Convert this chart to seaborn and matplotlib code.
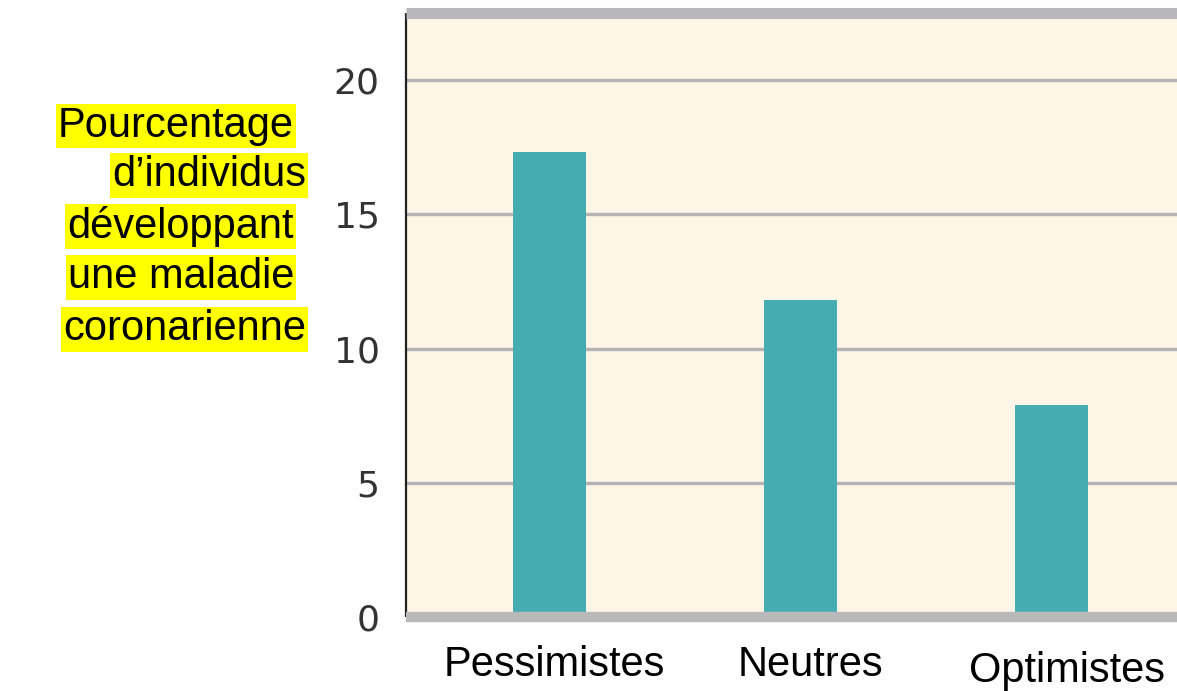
import matplotlib
matplotlib.use('Agg')
import matplotlib.pyplot as plt
import matplotlib.transforms as mtransforms
import pandas as pd
import seaborn as sns

# Data
groupes = ['Pessimistes', 'Neutres', 'Optimistes']
pourcentages = [17.3, 11.8, 7.9]
yticks = [0, 5, 10, 15, 20]
label_lines = ['Pourcentage', 'd\u2019individus', 'développant', 'une maladie', 'coronarienne']

df = pd.DataFrame({'groupe': groupes, 'pct': pourcentages})

sns.set_style('white')
plt.rcParams['font.family'] = ['DejaVu Sans']

cream = '#fdf6e6'
teal = '#45adb2'

fig = plt.figure(figsize=(11.77, 6.91), dpi=100)
ax = fig.add_axes([0.3449, 0.1064, 0.6551, 0.8755])
ax.set_facecolor(cream)

sns.barplot(data=df, x='groupe', y='pct', color=teal, saturation=1,
            width=0.29, linewidth=0, ax=ax, zorder=3)

ax.set_xlim(-0.572, 2.5)
ax.set_ylim(0, 22.5)
ax.set_yticks(yticks)
ax.set_xlabel('')
ax.set_ylabel('')

# grid lines
ax.yaxis.grid(True, color='#b4b4b4', linewidth=2.4, zorder=1)
ax.set_axisbelow(True)

# spines
ax.spines['right'].set_visible(False)
ax.spines['left'].set_color('#222222')
ax.spines['left'].set_linewidth(1.6)
ax.spines['bottom'].set_color('#b9b9b9')
ax.spines['bottom'].set_linewidth(7.5)
ax.spines['top'].set_color('#b7b7bc')
ax.spines['top'].set_linewidth(8)
for s in ax.spines.values():
    s.set_zorder(4)
    s.set_capstyle('butt')

ax.tick_params(axis='y', length=0, pad=19, labelsize=26, labelcolor='#333333')
ax.tick_params(axis='x', length=0, pad=20)
for lab in ax.get_xticklabels():
    lab.set_fontfamily('Liberation Sans')
    lab.set_fontsize(30)
    lab.set_color('black')

# small shifts seen on the category labels
shifts = [(5, 0), (10, 0), (15, -6)]
for lab, (dx, dy) in zip(ax.get_xticklabels(), shifts):
    lab.set_transform(lab.get_transform() +
                      mtransforms.ScaledTranslation(dx / 100, dy / 100, fig.dpi_scale_trans))

# highlighted y-axis title, one box per line
line_x = [58, 112, 67, 68, 63]
line_y = [126, 175.5, 226.5, 277.5, 329.5]
for txt, x, y in zip(label_lines, line_x, line_y):
    fig.text(x / 1177, 1 - y / 691, txt, ha='left', va='center',
             fontsize=30, family='Liberation Sans', color='black',
             bbox=dict(boxstyle='square,pad=0.05', facecolor='#ffff00',
                       edgecolor='none'))

fig.savefig('out.png', dpi=100, facecolor='white')
